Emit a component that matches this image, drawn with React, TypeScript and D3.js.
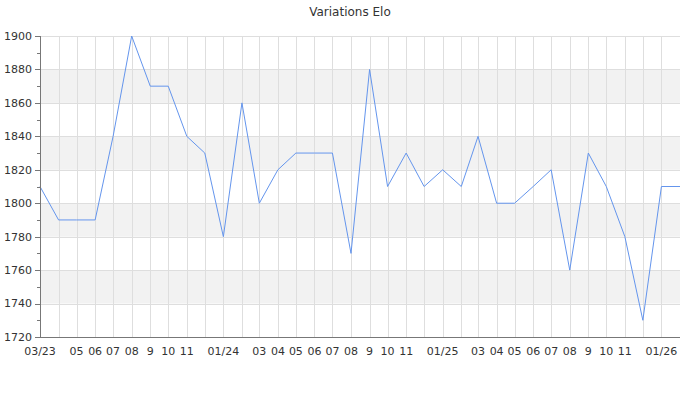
import React from "react";
import * as d3 from "d3";

const months: string[] = [
  "2023-03","2023-04","2023-05","2023-06","2023-07","2023-08","2023-09","2023-10","2023-11","2023-12",
  "2024-01","2024-02","2024-03","2024-04","2024-05","2024-06","2024-07","2024-08","2024-09","2024-10","2024-11","2024-12",
  "2025-01","2025-02","2025-03","2025-04","2025-05","2025-06","2025-07","2025-08","2025-09","2025-10","2025-11","2025-12",
  "2026-01","2026-02",
];
const elo: number[] = [
  1810, 1790, 1790, 1790, 1840, 1900, 1870, 1870, 1840, 1830,
  1780, 1860, 1800, 1820, 1830, 1830, 1830, 1770, 1880, 1810, 1830, 1810,
  1820, 1810, 1840, 1800, 1800, 1810, 1820, 1760, 1830, 1810, 1780, 1730,
  1810, 1810,
];
const tickLabels: string[] = [
  "03/23","","05","06","07","08","9","10","11","",
  "01/24","","03","04","05","06","07","08","9","10","11","",
  "01/25","","03","04","05","06","07","08","9","10","11","",
  "01/26",
];
const yTicks: number[] = [1720, 1740, 1760, 1780, 1800, 1820, 1840, 1860, 1880, 1900];
const title = "Variations Elo";

const W = 700, H = 400;
const L = 40, R = 680, T = 36, B = 337;
const font = "DejaVu Sans, sans-serif";

export default function App() {
  const parse = d3.timeParse("%Y-%m");
  const dates = months.map((m) => parse(m) as Date);
  const x = d3.scaleTime().domain([dates[0], dates[dates.length - 1]]).range([L, R]);
  const y = d3.scaleLinear().domain([1720, 1900]).range([B, T]);
  const line = d3.line<number>().x((_, i) => x(dates[i])).y((d) => y(d));
  const minor = d3.range(1730, 1900, 20);
  const bands = yTicks.slice(0, -1).filter((_, i) => i % 2 === 1);

  return (
    <svg width={W} height={H} style={{ position: "absolute", left: 0, top: 0 }}>
      <rect x={0} y={0} width={W} height={H} fill="#fff" />
      {bands.map((v) => (
        <rect key={"b" + v} x={L} y={y(v + 20)} width={R - L} height={y(v) - y(v + 20)} fill="#f2f2f2" />
      ))}
      {yTicks.map((v) => (
        <line key={"gy" + v} x1={L} x2={R} y1={Math.round(y(v)) + 0.5} y2={Math.round(y(v)) + 0.5} stroke="#dedede" />
      ))}
      {dates.slice(0, tickLabels.length).map((d, i) => (
        <line key={"gx" + i} x1={Math.round(x(d)) + 0.5} x2={Math.round(x(d)) + 0.5} y1={T} y2={B} stroke="#dedede" />
      ))}
      <path d={line(elo) || ""} fill="none" stroke="#6495ed" strokeWidth={1} />
      <line x1={L + 0.5} x2={L + 0.5} y1={T} y2={B + 0.5} stroke="#777" />
      <line x1={L} x2={R} y1={B + 0.5} y2={B + 0.5} stroke="#777" />
      {yTicks.map((v) => (
        <g key={"ty" + v}>
          <line x1={L - 5} x2={L} y1={Math.round(y(v)) + 0.5} y2={Math.round(y(v)) + 0.5} stroke="#777" />
          <text x={L - 8} y={y(v)} dy="0.35em" textAnchor="end" fontSize={11} fontFamily={font} fill="#333">{v}</text>
        </g>
      ))}
      {minor.map((v) => (
        <line key={"my" + v} x1={L - 3} x2={L} y1={Math.round(y(v)) + 0.5} y2={Math.round(y(v)) + 0.5} stroke="#777" />
      ))}
      {tickLabels.map((t, i) =>
        t ? (
          <text key={"tx" + i} x={x(dates[i])} y={355} textAnchor="middle" fontSize={11} fontFamily={font} fill="#333">{t}</text>
        ) : null
      )}
      <text x={W / 2} y={16} textAnchor="middle" fontSize={12} fontFamily={font} fill="#333">{title}</text>
    </svg>
  );
}
